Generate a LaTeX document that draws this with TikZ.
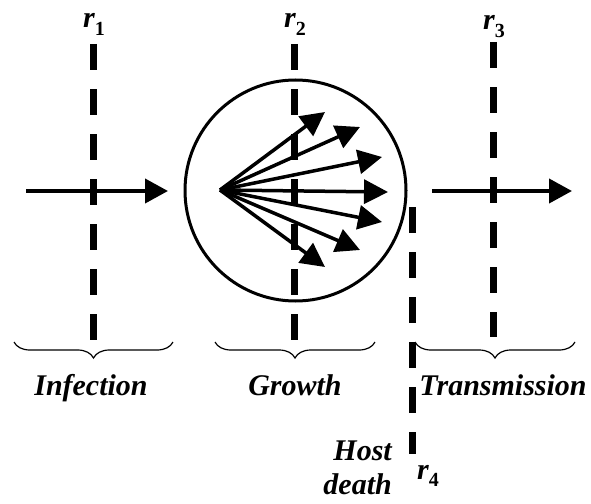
\documentclass[tikz,border=0pt]{standalone}
\usepackage{fontspec}
\setmainfont{Liberation Serif}
\usetikzlibrary{arrows.meta,decorations.pathreplacing}

\newcommand{\rsym}[1]{\textit{r}\raisebox{-0.24em}{\upshape\fontsize{20}{20}\selectfont #1}}

\begin{document}
\begin{tikzpicture}[x=1pt, y=-1pt,
        cut/.style={line width=7pt, dash pattern=on 26pt off 19pt},
        flow/.style={line width=4pt, -{Triangle[length=23pt,width=24pt]}},
        spray/.style={line width=3.5pt, -{Triangle[length=24pt,width=24pt]}},
        stage/.style={decorate, decoration={brace,mirror,amplitude=16pt}, line width=1.2pt},
        lab/.style={font=\fontsize{30}{34}\selectfont\bfseries\itshape, inner sep=0pt}]
    \useasboundingbox (0,0) rectangle (591,503);
    \foreach \x/\ya/\yb in {93/44/340, 294/44/340, 493/42/337, 412/207/454}
        \draw[cut] (\x,\ya) -- (\x,\yb);
    \node[circle, draw, line width=3pt, minimum size=221pt, inner sep=0pt] (host) at (295.5,190.5) {};
    \coordinate (src) at (220,190);
    \foreach \tx/\ty in {325/112, 360/127, 382/157, 388/192, 382/222, 360/250, 325/267}
        \draw[spray] (src) -- (\tx,\ty);
    \coordinate (inA) at (26,191);
    \coordinate (inB) at (168,191);
    \coordinate (outA) at (432,191);
    \coordinate (outB) at (572,191);
    \draw[flow] (inA) -- (inB);
    \draw[flow] (outA) -- (outB);
    \node[lab, anchor=base] (r1) at (94,28) {\rsym{1}};
    \node[lab, anchor=base] (r2) at (295,28) {\rsym{2}};
    \node[lab, anchor=base] (r3) at (494,30) {\rsym{3}};
    \node[lab, anchor=base west] (r4) at (417,479) {\rsym{4}};
    \draw[stage] (14,342) -- (173,342);
    \draw[stage] (215,342) -- (375,342);
    \draw[stage] (415,342) -- (575,342);
    \node[lab, anchor=base] (inf) at (91,395) {Infection};
    \node[lab, anchor=base] (grow) at (295,395) {Growth};
    \node[lab, anchor=base] (trans) at (503,395) {Transmission};
    \node[lab, align=right, anchor=south east] (death) at (392,495) {Host\\death};
\end{tikzpicture}
\end{document}
